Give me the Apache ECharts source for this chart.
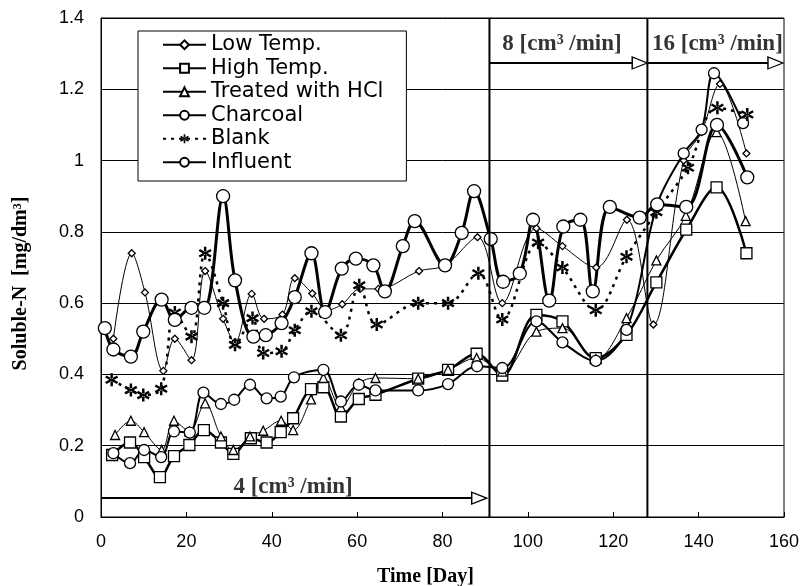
<!DOCTYPE html>
<html lang="en">
<head>
<meta charset="UTF-8">
<title>Soluble-N vs Time</title>
<script src="https://cdn.jsdelivr.net/npm/echarts@6/dist/echarts.min.js"></script>
<style>
    html, body { margin: 0; background: #fff; }
    #main { width: 800px; height: 586px; }
</style>
</head>
<body>
<div id="main"></div>
<script>
// [day, mg/dm3]
var lowTemp = [[2.9,0.50],[7.2,0.74],[10.3,0.63],[14.6,0.41],[17.3,0.50],[21.2,0.44],[24.4,0.69],[28.6,0.556],[31.4,0.49],[35.3,0.626],[38.2,0.556],[42.5,0.568],[45.4,0.67],[49.5,0.627],[52.9,0.58],[56.5,0.597],[60.7,0.64],[65,0.64],[74.5,0.69],[80.6,0.706],[88.2,0.785],[94,0.60],[102,0.81],[108.1,0.76],[116,0.70],[123.2,0.834],[129.4,0.54],[136.5,1.0],[140.7,1.08],[145,1.215],[151.2,1.02]];
var highTemp = [[2.6,0.174],[6.8,0.209],[10.1,0.168],[13.8,0.112],[17.1,0.171],[20.7,0.202],[24.1,0.244],[28.1,0.209],[31,0.177],[35.1,0.221],[38.8,0.209],[42.1,0.238],[45,0.277],[49.2,0.359],[52.1,0.364],[56.2,0.282],[60.4,0.331],[64.3,0.343],[74.3,0.388],[81.3,0.413],[88,0.458],[94,0.397],[102,0.567],[108.1,0.549],[115.9,0.446],[123.1,0.511],[130.1,0.658],[137.1,0.806],[144.2,0.925],[151.2,0.74]];
var hcl = [[3.3,0.23],[7,0.27],[10.1,0.238],[14.2,0.188],[17.1,0.27],[20.7,0.24],[24.4,0.319],[28.1,0.226],[31,0.188],[34.9,0.226],[38,0.242],[42.2,0.27],[45,0.244],[49.2,0.33],[52.1,0.39],[56.2,0.308],[60.4,0.375],[64.3,0.39],[74.3,0.388],[81.3,0.413],[88,0.446],[94,0.408],[102,0.52],[108.1,0.53],[115.9,0.443],[123.1,0.558],[130.1,0.72],[137,0.845],[144.2,1.08],[151,0.83]];
var charcoal = [[2.9,0.179],[6.8,0.151],[10.1,0.188],[14.1,0.168],[17.1,0.24],[20.8,0.237],[24,0.349],[28.1,0.317],[31.2,0.329],[34.9,0.371],[38.8,0.333],[42.1,0.338],[45.2,0.392],[52.1,0.413],[56.2,0.324],[60.4,0.371],[64.3,0.355],[74.3,0.355],[81.3,0.373],[88.1,0.423],[94,0.418],[102,0.549],[108.1,0.49],[115.9,0.438],[123.1,0.525],[130.3,0.877],[136.5,1.02],[140.7,1.087],[143.6,1.245],[150.4,1.105]];
var blank = [[2.5,0.385],[7,0.356],[9.9,0.342],[14.1,0.36],[17.3,0.574],[21.2,0.506],[24.4,0.74],[28.6,0.60],[31.4,0.483],[35.5,0.558],[38,0.46],[42.3,0.465],[45.4,0.524],[49.3,0.577],[56.2,0.51],[60.5,0.65],[64.6,0.54],[74.3,0.60],[81.3,0.60],[88.4,0.684],[94,0.554],[102.4,0.77],[108.1,0.70],[115.9,0.58],[123.1,0.73],[130.1,0.855],[137.5,0.98],[144.4,1.148],[151.4,1.129]];
var influent = [[0.9,0.53],[2.9,0.47],[7,0.45],[9.9,0.52],[14.2,0.61],[17.3,0.553],[21.2,0.587],[24.2,0.587],[28.6,0.90],[31.4,0.664],[35.7,0.506],[38.6,0.51],[42.3,0.544],[45.4,0.617],[49.3,0.74],[52.5,0.575],[56.4,0.697],[59.7,0.725],[63.8,0.706],[66.5,0.633],[70.7,0.76],[73.5,0.83],[80.6,0.706],[84.5,0.797],[87.4,0.914],[91.3,0.78],[94.2,0.66],[98.1,0.683],[101.2,0.834],[105,0.607],[108.3,0.815],[112.3,0.834],[115.2,0.633],[119.2,0.87],[126.2,0.84],[130.3,0.877],[137.1,0.87],[144.3,1.10],[151.4,0.953]];

// flow-rate periods
var phaseEdges = [91, 128];
var arrowStart = [0, 91, 128];
var arrowTip = [88.6, 126.2, 158];
var arrowY = [0.053, 1.274, 1.274];
var flowLabels = ['4 [cm³ /min]', '8 [cm³ /min]', '16 [cm³ /min]'];
var flowLabelPos = [[45, 0.084], [108, 1.326], [144.4, 1.326]];

// six-armed asterisk marker for "Blank"
var starPath = 'path://M-1.1,-6L1.1,-6L1.1,6L-1.1,6Z M4.646,3.953L5.746,2.047L-4.646,-3.953L-5.746,-2.047Z M-5.746,2.047L-4.646,3.953L5.746,-2.047L4.646,-3.953Z';

function dataSeries(name, data, symbol, size, width, dash) {
    return {
        name: name,
        type: 'line',
        data: data,
        smooth: 0.35,
        symbol: symbol,
        symbolSize: size,
        lineStyle: {color: '#000', width: width, type: dash || 'solid'},
        itemStyle: {color: '#fff', borderColor: '#000', borderWidth: 1.3},
        z: 3
    };
}

var series = [
    dataSeries('Low Temp.', lowTemp, 'diamond', 7, 1),
    dataSeries('High Temp.', highTemp, 'rect', 11, 2.5),
    dataSeries('Treated with HCl', hcl, 'triangle', 9, 1),
    dataSeries('Charcoal', charcoal, 'circle', 11, 2),
    dataSeries('Blank', blank, starPath, 13, 2.5, [3, 5]),
    dataSeries('Influent', influent, 'circle', 13, 3)
];
series[4].itemStyle = {color: '#000', borderWidth: 0};

phaseEdges.forEach(function (d) {
    series.push({
        type: 'line', data: [[d, 0], [d, 1.4]], symbol: 'none',
        lineStyle: {color: '#000', width: 2}, z: 4, silent: true
    });
});

arrowStart.forEach(function (s, i) {
    series.push({
        type: 'line',
        data: [
            {value: [s, arrowY[i]], symbol: 'none'},
            {value: [arrowTip[i], arrowY[i]], symbol: 'triangle', symbolRotate: -90, symbolSize: [12, 15]}
        ],
        lineStyle: {color: '#000', width: 2},
        itemStyle: {color: '#fff', borderColor: '#000', borderWidth: 1.3},
        z: 5, silent: true
    });
});

series.push({
    type: 'scatter',
    data: flowLabelPos,
    symbolSize: 1,
    itemStyle: {color: 'rgba(0,0,0,0)'},
    label: {
        show: true, position: 'inside',
        formatter: function (p) { return flowLabels[p.dataIndex]; },
        fontFamily: 'Liberation Serif', fontWeight: 'bold', fontSize: 23, color: '#000'
    },
    z: 6, silent: true
});

var chart = echarts.init(document.getElementById('main'));
chart.setOption({
    animation: false,
    backgroundColor: '#fff',
    grid: {left: 101, right: 16, top: 18, bottom: 69, show: true, borderColor: '#000', borderWidth: 1, outerBoundsMode: 'none', containLabel: false},
    legend: {
        data: ['Low Temp.', 'High Temp.', 'Treated with HCl', 'Charcoal', 'Blank', 'Influent'],
        orient: 'vertical', left: 138, top: 31,
        padding: [2, 23, 7, 24],
        itemWidth: 43, itemHeight: 11, itemGap: 0,
        backgroundColor: '#fff', borderColor: '#000', borderWidth: 1,
        textStyle: {fontFamily: 'DejaVu Sans', fontSize: 21, lineHeight: 23.5, color: '#000'}
    },
    xAxis: {
        type: 'value', min: 0, max: 160, interval: 20,
        name: 'Time [Day]', nameLocation: 'middle', nameGap: 50,
        nameTextStyle: {fontFamily: 'Liberation Serif', fontWeight: 'bold', fontSize: 20, color: '#000', padding: [0, 34, 0, 0]},
        axisLine: {lineStyle: {color: '#000', width: 1}},
        axisTick: {inside: true, length: 5, lineStyle: {color: '#000'}},
        axisLabel: {fontFamily: 'Liberation Sans', fontSize: 18, color: '#000', margin: 16},
        splitLine: {show: false}
    },
    yAxis: {
        type: 'value', min: 0, max: 1.4, interval: 0.2,
        name: 'Soluble-N  [mg/dm³]', nameLocation: 'middle', nameGap: 70,
        nameTextStyle: {fontFamily: 'Liberation Serif', fontWeight: 'bold', fontSize: 20, color: '#000', padding: [0, 32, 0, 0]},
        axisLine: {lineStyle: {color: '#000', width: 1}},
        axisTick: {show: false},
        axisLabel: {fontFamily: 'Liberation Sans', fontSize: 18, color: '#000', margin: 17},
        splitLine: {lineStyle: {color: '#000', width: 1}}
    },
    series: series
});
</script>
</body>
</html>
